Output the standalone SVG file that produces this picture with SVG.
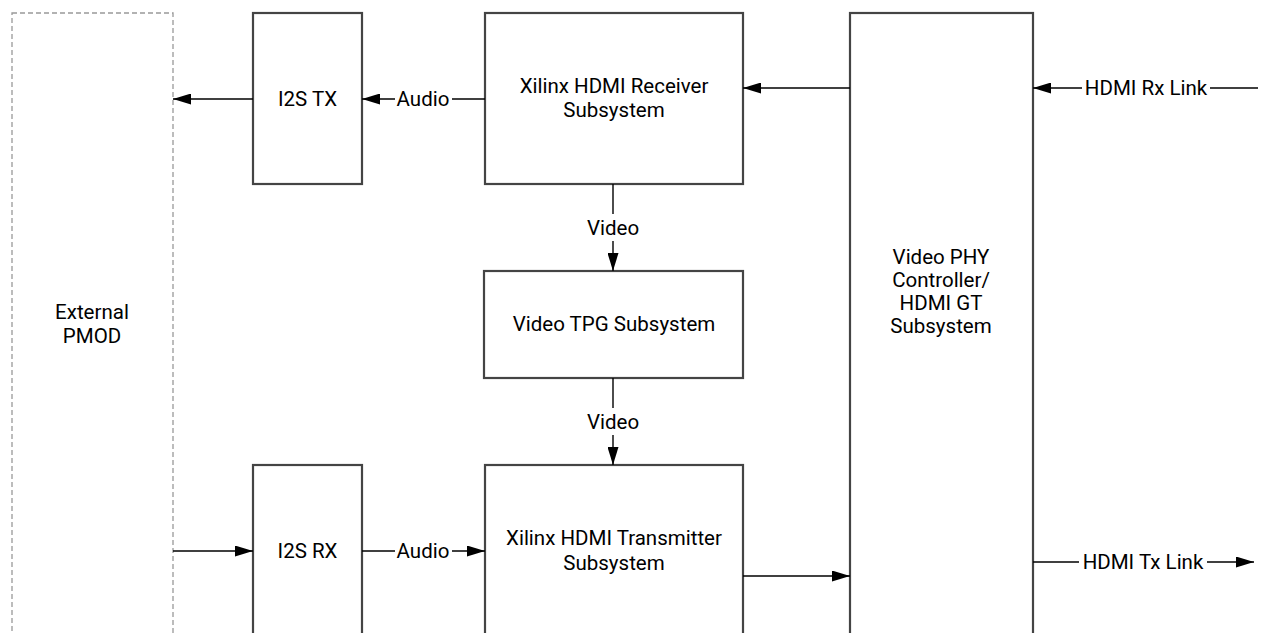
<svg xmlns="http://www.w3.org/2000/svg" width="1267" height="633" viewBox="0 0 1267 633">
<style>
.box{fill:#fff;stroke:#444;stroke-width:2.2}
.dash{fill:#fff;stroke:#999;stroke-width:1.3;stroke-dasharray:5 3}
.ln{fill:none;stroke:#000;stroke-width:1.4}
.t{font-family:Roboto,"Liberation Sans",sans-serif;font-size:20.5px;fill:#000;text-anchor:middle}
</style>
<defs>
<marker id="ah" markerWidth="18" markerHeight="11" refX="18" refY="5.5" orient="auto" markerUnits="userSpaceOnUse">
<path d="M0,0 L18,5.5 L0,11 Z" fill="#000"/>
</marker>
</defs>
<rect width="1267" height="633" fill="#fff"/>
<g id="pmod">
<rect class="dash" x="12" y="13" width="161" height="640"/>
<text class="t" x="92" y="319">External</text>
<text class="t" x="92" y="343">PMOD</text>
</g>
<g id="i2stx">
<rect class="box" x="253" y="13" width="109" height="171"/>
<text class="t" x="307.5" y="106">I2S TX</text>
</g>
<g id="hdmirx">
<rect class="box" x="485" y="13" width="258" height="171"/>
<text class="t" x="614" y="93">Xilinx HDMI Receiver</text>
<text class="t" x="614" y="117">Subsystem</text>
</g>
<g id="tpg">
<rect class="box" x="484" y="271" width="259" height="107"/>
<text class="t" x="614" y="331">Video TPG Subsystem</text>
</g>
<g id="i2srx">
<rect class="box" x="253" y="465" width="109" height="200"/>
<text class="t" x="307.5" y="558">I2S RX</text>
</g>
<g id="hdmitx">
<rect class="box" x="485" y="465" width="258" height="200"/>
<text class="t" x="614" y="545">Xilinx HDMI Transmitter</text>
<text class="t" x="614" y="570">Subsystem</text>
</g>
<g id="phy">
<rect class="box" x="850" y="13" width="183" height="650"/>
<text class="t" x="941" y="264">Video PHY</text>
<text class="t" x="941" y="287">Controller/</text>
<text class="t" x="941" y="310">HDMI GT</text>
<text class="t" x="941" y="333">Subsystem</text>
</g>
<g id="connectors">
<line class="ln" x1="253" y1="99" x2="173" y2="99" marker-end="url(#ah)"/>
<line class="ln" x1="485" y1="99" x2="452" y2="99"/>
<line class="ln" x1="395" y1="99" x2="362" y2="99" marker-end="url(#ah)"/>
<text class="t" x="423" y="106">Audio</text>
<line class="ln" x1="850" y1="88" x2="743" y2="88" marker-end="url(#ah)"/>
<line class="ln" x1="1258" y1="88" x2="1210" y2="88"/>
<line class="ln" x1="1082" y1="88" x2="1033" y2="88" marker-end="url(#ah)"/>
<text class="t" x="1146" y="95">HDMI Rx Link</text>
<line class="ln" x1="613" y1="184" x2="613" y2="214"/>
<line class="ln" x1="613" y1="241" x2="613" y2="271" marker-end="url(#ah)"/>
<text class="t" x="613" y="235">Video</text>
<line class="ln" x1="613" y1="378" x2="613" y2="408"/>
<line class="ln" x1="613" y1="435" x2="613" y2="465" marker-end="url(#ah)"/>
<text class="t" x="613" y="429">Video</text>
<line class="ln" x1="173" y1="551" x2="253" y2="551" marker-end="url(#ah)"/>
<line class="ln" x1="362" y1="551" x2="395" y2="551"/>
<line class="ln" x1="452" y1="551" x2="485" y2="551" marker-end="url(#ah)"/>
<text class="t" x="423" y="558">Audio</text>
<line class="ln" x1="743" y1="576" x2="850" y2="576" marker-end="url(#ah)"/>
<line class="ln" x1="1033" y1="562" x2="1079" y2="562"/>
<line class="ln" x1="1207" y1="562" x2="1254" y2="562" marker-end="url(#ah)"/>
<text class="t" x="1143" y="569">HDMI Tx Link</text>
</g>
</svg>
